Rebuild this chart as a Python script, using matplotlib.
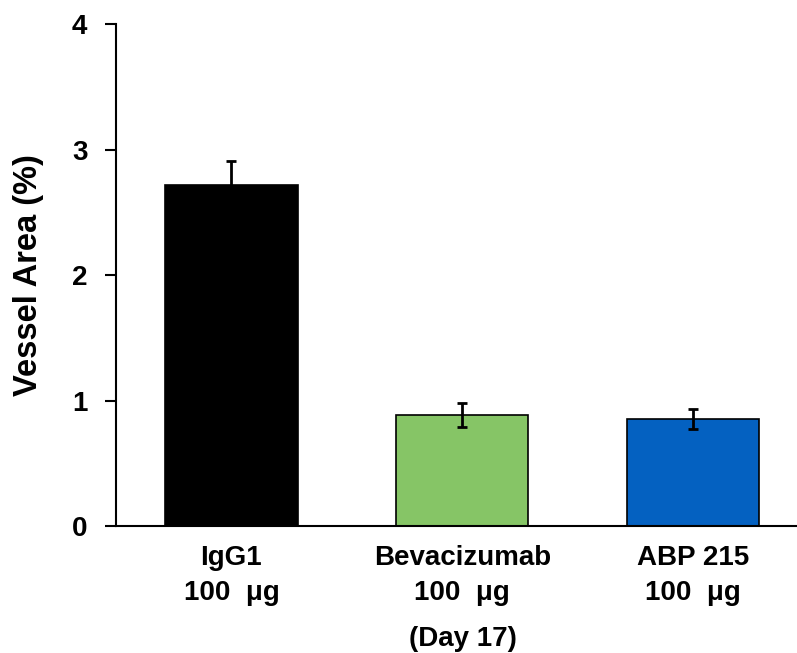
import matplotlib.pyplot as plt

# Vessel area on day 17 for each treatment group
groups = ['IgG1', 'Bevacizumab', 'ABP 215']
doses = ['100  μg', '100  μg', '100  μg']
vessel_area = [2.72, 0.885, 0.855]
vessel_err = [0.19, 0.095, 0.08]
bar_colors = ['#000000', '#86C566', '#0461C1']

plt.rcParams['font.family'] = ['Liberation Sans', 'DejaVu Sans']
plt.rcParams['font.weight'] = 'bold'

fig = plt.figure(figsize=(7.97, 6.53), dpi=100)
ax = fig.add_axes([0.1455, 0.1945, 0.8545, 0.7685])

x = range(len(groups))
ax.bar(x, vessel_area, width=0.573, color=bar_colors, edgecolor='black',
       linewidth=1.2, zorder=2)
ax.errorbar(x, vessel_area, yerr=vessel_err, fmt='none', ecolor='black',
            elinewidth=2, capsize=3.3, capthick=2, zorder=3)

ax.set_xlim(-0.5, 2.45)
ax.set_ylim(0, 4)
ax.set_yticks([0, 1, 2, 3, 4])
ax.set_xticks(list(x))
ax.set_xticklabels([f'{g}\n{d}' for g, d in zip(groups, doses)],
                   fontsize=20, fontweight='bold', linespacing=1.45)
ax.tick_params(axis='x', length=0, pad=14)
ax.tick_params(axis='y', direction='out', length=8, width=1.5,
               labelsize=20, pad=12.5)
for lbl in ax.get_yticklabels():
    lbl.set_fontweight('bold')

for side in ['top', 'right']:
    ax.spines[side].set_visible(False)
for side in ['left', 'bottom']:
    ax.spines[side].set_linewidth(1.5)

ax.set_ylabel('Vessel Area (%)', fontsize=23.5, fontweight='bold', labelpad=20)
fig.text(463 / 797, 1 - 646 / 653, '(Day 17)', ha='center', va='baseline',
         fontsize=20, fontweight='bold')

fig.savefig('out.png', dpi=100)
